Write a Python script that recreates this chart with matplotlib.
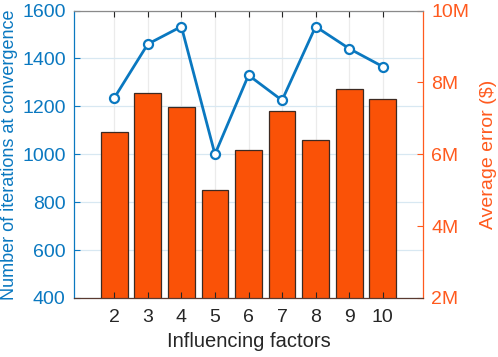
import matplotlib
matplotlib.use("Agg")
import matplotlib.pyplot as plt
from matplotlib.ticker import FuncFormatter

plt.rcParams['font.family'] = ['Liberation Sans', 'DejaVu Sans']

factors = [2, 3, 4, 5, 6, 7, 8, 9, 10]
iterations = [1235, 1460, 1533, 1000, 1330, 1225, 1533, 1441, 1366]
avg_error_m = [6.62, 7.71, 7.32, 5.01, 6.11, 7.21, 6.40, 7.82, 7.53]

blue = '#0A78C0'
orange_bar = '#FA5207'
orange_txt = '#FF5A1E'
fs = 14

fig = plt.figure(figsize=(4.98, 3.57), dpi=100)
rect = [74/498, 1 - 298/357, (423-74)/498, (298-10.5)/357]

axg = fig.add_axes(rect, zorder=0)
axb = fig.add_axes(rect, zorder=1, sharex=axg)
axl = fig.add_axes(rect, zorder=2, sharex=axg)

xlim = (0.8, 11.2)
axg.set_xlim(*xlim)
axg.set_ylim(400, 1600)
axg.set_xticks(factors)
axg.set_yticks(range(400, 1601, 200))
axg.yaxis.grid(True, color='#D8E8F2', lw=0.9)
axg.xaxis.grid(True, color='#EBEBEB', lw=0.9)
axg.tick_params(left=False, bottom=False, labelleft=False, labelbottom=False)
for s in axg.spines.values():
    s.set_visible(False)

# bars (right axis)
axb.patch.set_visible(False)
axb.bar(factors, avg_error_m, width=0.8, color=orange_bar, edgecolor='#3C2A22', lw=0.9)
axb.set_ylim(2, 10)
axb.yaxis.tick_right()
axb.yaxis.set_label_position('right')
axb.set_yticks([2, 4, 6, 8, 10])
axb.yaxis.set_major_formatter(FuncFormatter(lambda v, p: f"{v:g}M"))
axb.tick_params(axis='y', direction='in', colors=orange_txt, labelsize=fs, length=4, pad=6)
axb.tick_params(axis='x', bottom=False, labelbottom=False)
axb.set_ylabel('Average error ($)', color=orange_txt, fontsize=14, labelpad=8)
for k, s in axb.spines.items():
    s.set_visible(k == 'right')
axb.spines['right'].set_color(orange_txt)
axb.spines['right'].set_linewidth(0.9)

# line (left axis)
axl.patch.set_visible(False)
axl.plot(factors, iterations, color=blue, lw=2, marker='o', ms=6.5,
         mfc='white', mec=blue, mew=1.6, zorder=3, clip_on=False)
axl.set_ylim(400, 1600)
axl.set_yticks(range(400, 1601, 200))
axl.tick_params(axis='y', direction='in', colors=blue, labelsize=fs, length=4, pad=6)
axl.tick_params(axis='x', direction='in', colors='#262626', labelsize=fs, length=4,
                top=True, pad=8)
axl.set_ylabel('Number of iterations at convergence', color=blue, fontsize=13, labelpad=3)
axl.set_xlabel('Influencing factors', color='#262626', fontsize=14.5, labelpad=4)
axl.spines['right'].set_visible(False)
axl.spines['left'].set_color(blue)
axl.spines['top'].set_color('#8A8A8A')
axl.spines['bottom'].set_color('#5A3A30')
for s in axl.spines.values():
    s.set_linewidth(0.9)

fig.savefig('out.png', dpi=100)
